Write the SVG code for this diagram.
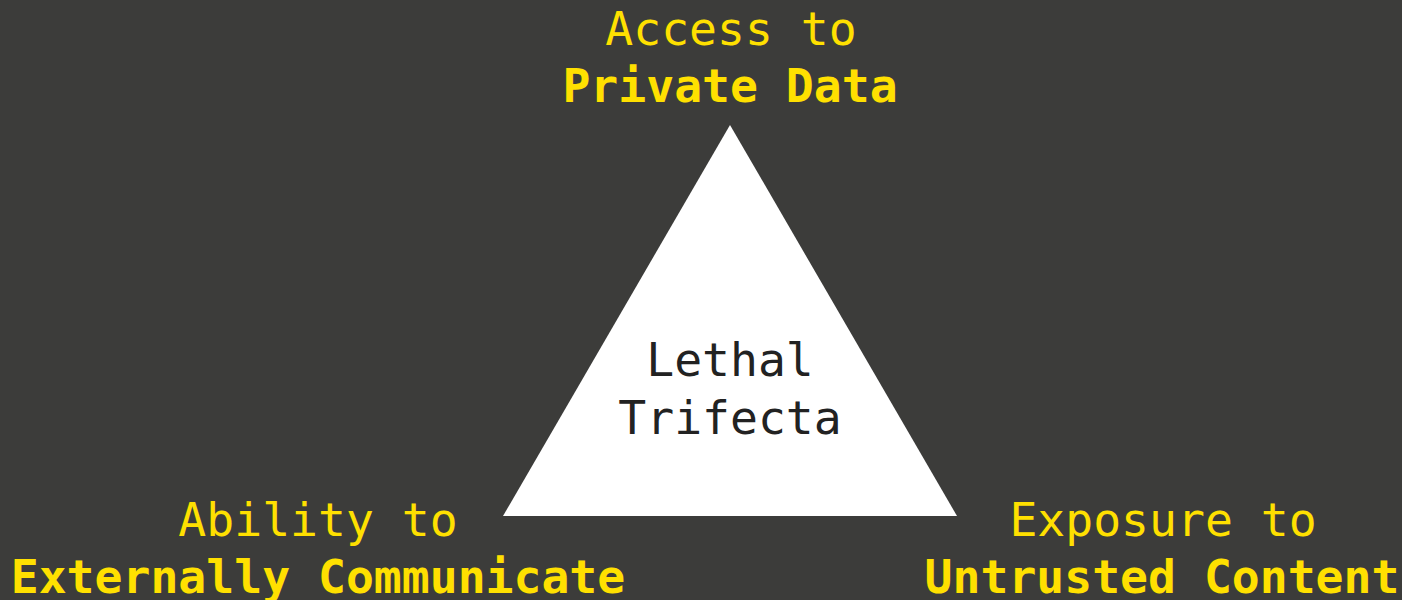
<svg xmlns="http://www.w3.org/2000/svg" width="1402" height="600" viewBox="0 0 1402 600">
  <style>
    .lbl { font-family: "DejaVu Sans Mono", "Liberation Mono", monospace; font-size: 46.4px; text-anchor: middle; fill: #FFE000; }
    .thin { font-weight: normal; }
    .bold { font-weight: bold; }
    .core { font-family: "DejaVu Sans Mono", "Liberation Mono", monospace; font-size: 46.4px; text-anchor: middle; fill: #222222; }
  </style>
  <rect width="1402" height="600" fill="#3C3C3A"/>

  <g id="trifecta">
    <polygon points="730,125 957,516 503,516" fill="#FFFFFF"/>
    <text class="core" x="730" y="376">Lethal</text>
    <text class="core" x="730" y="434">Trifecta</text>
  </g>

  <g id="private-data">
    <text class="lbl thin" x="731" y="45">Access to</text>
    <text class="lbl bold" x="730" y="102">Private Data</text>
  </g>

  <g id="external-comm">
    <text class="lbl thin" x="318" y="536">Ability to</text>
    <text class="lbl bold" x="318" y="593">Externally Communicate</text>
  </g>

  <g id="untrusted-content">
    <text class="lbl thin" x="1163" y="536">Exposure to</text>
    <text class="lbl bold" x="1162" y="593">Untrusted Content</text>
  </g>

  <g id="connectors"></g>
</svg>
